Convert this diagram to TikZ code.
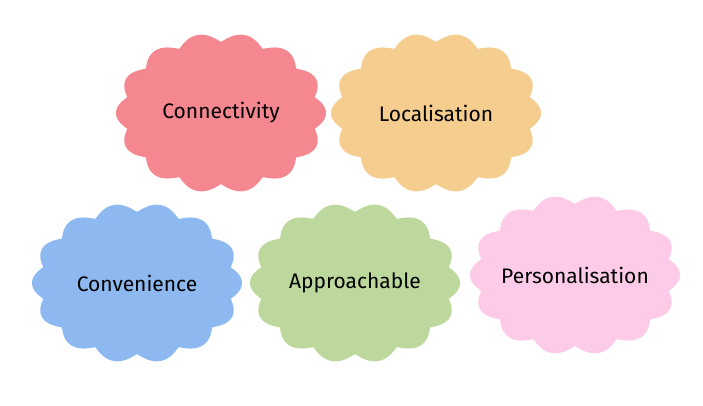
\documentclass[tikz,border=0pt]{standalone}
\usepackage{fontspec}
\setmainfont{Fira Sans}
\definecolor{cA}{HTML}{F4878F}
\definecolor{cB}{HTML}{F4CD8F}
\definecolor{cC}{HTML}{8DB9F0}
\definecolor{cD}{HTML}{BCD89C}
\definecolor{cE}{HTML}{FDCBE7}
\tikzset{lbl/.style={font=\fontsize{21}{24}\selectfont,text=black}}
\newcommand{\wavy}[4]{%
  \fill[#3] plot[domain=0:360,samples=400,smooth] ({#1+(96+9*abs(cos(7*\x)))*cos(\x)},{#2+(71+9*abs(cos(7*\x)))*sin(\x)});
  \node[lbl] at (#1,#2) {#4};}
\begin{document}
\begin{tikzpicture}[x=1pt,y=-1pt]
\useasboundingbox (0,0) rectangle (703,406);
\wavy{221}{113}{cA}{Connectivity}
\wavy{436}{113}{cB}{Localisation}
\wavy{137}{283}{cC}{Convenience}
\wavy{355}{283}{cD}{Approachable}
\wavy{575}{275}{cE}{Personalisation}
\end{tikzpicture}
\end{document}
